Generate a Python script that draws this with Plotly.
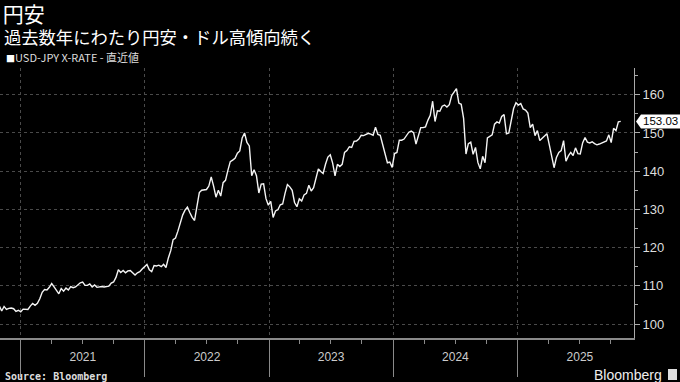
import plotly.graph_objects as go
import pandas as pd

# Weekly USD/JPY closes, grouped by year, each list starting at the given Friday
vals_2020 = [104.7, 103.4, 104.6, 103.8, 104.1, 104.2, 104.0, 103.3, 103.6]
vals_2021 = [103.2, 103.9, 103.9, 103.8, 104.7, 105.4, 104.9, 105.4, 106.6, 108.3, 109.0, 108.9, 109.6,
             110.6, 109.7, 108.8, 107.9, 109.3, 108.6, 109.4, 108.9, 109.8, 109.5, 109.7, 110.2, 110.8,
             111.0, 110.1, 110.1, 110.5, 109.7, 110.2, 109.6, 109.8, 109.8, 109.7, 109.9, 109.9, 110.7,
             111.0, 112.2, 114.2, 113.5, 114.0, 113.4, 113.9, 114.0, 113.4, 112.8, 113.4, 113.7, 114.4, 115.1]
vals_2022 = [115.6, 114.2, 113.7, 115.3, 115.2, 115.4, 115.0, 115.6, 114.8, 117.3, 119.2, 122.1, 122.5,
             124.3, 126.4, 128.5, 129.8, 130.6, 129.2, 127.9, 127.1, 130.8, 134.4, 135.0, 135.2, 135.2,
             136.1, 138.5, 136.1, 133.2, 135.0, 133.5, 137.0, 137.6, 140.2, 142.5, 142.9, 143.4, 144.7,
             145.3, 148.7, 150.0, 147.5, 146.6, 138.8, 140.4, 138.8, 134.3, 136.6, 136.7, 132.8, 131.1]
vals_2023 = [132.1, 127.9, 129.6, 129.9, 131.2, 131.4, 134.2, 136.5, 135.9, 135.0, 131.8, 130.7, 132.8,
             132.2, 133.8, 134.2, 136.3, 134.8, 135.7, 137.9, 140.6, 139.9, 139.4, 141.8, 143.7, 144.3,
             142.1, 138.8, 141.8, 141.2, 141.8, 144.9, 145.4, 146.4, 146.2, 147.8, 147.9, 148.4, 149.4,
             149.3, 149.6, 149.9, 149.7, 149.4, 151.5, 149.6, 149.4, 146.8, 144.9, 142.2, 142.4, 141.0]
vals_2024 = [144.6, 144.9, 148.1, 148.1, 148.4, 149.3, 150.2, 150.5, 150.1, 147.1, 149.0, 151.4, 151.4,
             151.6, 153.3, 154.6, 158.3, 153.0, 155.8, 155.7, 157.0, 157.3, 156.8, 157.4, 159.8, 160.9,
             161.6, 157.8, 157.5, 153.8, 144.5, 147.2, 147.6, 144.4, 146.2, 142.3, 140.6, 143.9, 142.2,
             148.7, 149.1, 149.5, 152.3, 152.9, 152.6, 154.3, 154.8, 149.8, 150.0, 153.6, 156.4, 157.9]
vals_2025 = [157.3, 157.7, 156.3, 156.0, 155.2, 151.4, 152.3, 149.3, 150.6, 148.0, 148.6, 149.3, 149.8,
             146.9, 143.5, 140.9, 143.6, 144.9, 145.4, 148.0, 142.6, 144.0, 144.9, 144.1, 146.1, 144.6,
             144.5, 147.4, 148.8, 147.6, 147.4, 147.7, 147.2, 146.9, 147.1, 147.4, 147.7, 147.9, 149.5,
             147.5, 151.2, 150.6, 152.9, 153.03]
starts = ["2020-10-30", "2021-01-01", "2022-01-07", "2023-01-06", "2024-01-05", "2025-01-03"]
series = [vals_2020, vals_2021, vals_2022, vals_2023, vals_2024, vals_2025]

year_ticks = ["2021-01-01", "2022-01-01", "2023-01-01", "2024-01-01", "2025-01-01"]
x_range = ["2020-11-01", "2025-12-09"]
y_range = [96.34, 167.0]
last_label = "153.03"
last_value = 153.03

dates, values = [], []
for s, v in zip(starts, series):
    dates += list(pd.date_range(s, periods=len(v), freq="7D"))
    values += v

W, H = 680, 382
ML, MR, MT, MB = 0, 46, 68, 44
PW, PH = W - ML - MR, H - MT - MB


def py(p):  # pixel-from-top -> paper y
    return 1 + (MT - p) / PH


def px(p):  # pixel-from-left -> paper x
    return (p - ML) / PW


JP = "Noto Sans CJK JP"
grid = "#4a4a4a"
axc = "#8a8a8a"

fig = go.Figure()
fig.add_trace(go.Scatter(x=dates, y=values, mode="lines",
                         line=dict(color="#f4f4f4", width=1.4), hoverinfo="skip", showlegend=False))
fig.add_trace(go.Scatter(x=[dates[0]], y=[values[0]], mode="markers", marker=dict(opacity=0),
                         xaxis="x2", hoverinfo="skip", showlegend=False))

# value pointer label on the right axis
dpp = (y_range[1] - y_range[0]) / PH
hh = 7 * dpp
x_tip, x_l, x_r = px(636), px(641), px(681)
fig.add_shape(type="path", xref="paper", yref="y",
              path=f"M {x_tip} {last_value} L {x_l} {last_value + hh} L {x_r} {last_value + hh} "
                   f"L {x_r} {last_value - hh} L {x_l} {last_value - hh} Z",
              fillcolor="white", line=dict(width=0), layer="above")
fig.add_annotation(xref="paper", yref="y", x=px(660.5), y=last_value, xanchor="center", yanchor="middle",
                   text=last_label, showarrow=False,
                   font=dict(family="Liberation Sans", size=11.5, color="black"))

# Bloomberg mark icon
fig.add_shape(type="rect", xref="paper", yref="paper", x0=px(668), x1=px(677), y0=py(380), y1=py(369),
              fillcolor="#dddddd", line=dict(width=0), layer="above")

fig.add_annotation(xref="paper", yref="paper", x=px(2), y=py(36), xanchor="left", yanchor="middle",
                   text="過去数年にわたり円安・ドル高傾向続く", showarrow=False,
                   font=dict(family=JP, size=17.3, color="white"))
fig.add_annotation(xref="paper", yref="paper", x=px(4), y=py(57), xanchor="left", yanchor="middle",
                   text="<span style='font-size:9px;color:white'>■</span>USD-JPY X-RATE - 直近値",
                   showarrow=False, font=dict(family=JP, size=11, color="#dddddd"))
fig.add_annotation(xref="paper", yref="paper", x=px(3), y=py(376), xanchor="left", yanchor="middle",
                   text="<b>Source: Bloomberg</b>", showarrow=False,
                   font=dict(family="DejaVu Sans Mono", size=10, color="#dddddd"))
fig.add_annotation(xref="paper", yref="paper", x=px(664), y=py(375), xanchor="right", yanchor="middle",
                   text="Bloomberg", showarrow=False,
                   font=dict(family="Liberation Sans", size=14, color="#eeeeee"))

fig.update_layout(
    width=W, height=H,
    margin=dict(l=ML, r=MR, t=MT, b=MB, pad=0),
    paper_bgcolor="black", plot_bgcolor="black",
    title=dict(text="円安", x=0.004, xref="container", xanchor="left",
               y=1 - 15 / H, yref="container", yanchor="middle",
               font=dict(family=JP, size=21, color="white")),
    xaxis=dict(range=x_range, tickmode="array", tickvals=year_ticks,
               showticklabels=False, ticks="outside", ticklen=37, tickcolor=axc, tickwidth=1,
               showgrid=True, gridcolor=grid, griddash="dot", gridwidth=1,
               showline=True, linecolor=axc, linewidth=2, zeroline=False,
               minor=dict(ticks="outside", ticklen=4, dtick="M3", tick0="2021-01-01",
                          tickcolor=axc, showgrid=False)),
    xaxis2=dict(overlaying="x", matches="x", anchor="y", side="bottom",
                dtick="M12", tick0="2021-01-01", ticklabelmode="period", tickformat="%Y",
                ticks="", showgrid=False, showline=False, zeroline=False,
                ticklabelstandoff=10,
                tickfont=dict(family="Liberation Sans", size=12, color="#cccccc")),
    yaxis=dict(range=y_range, side="right", dtick=10, tick0=100,
               showgrid=True, gridcolor=grid, griddash="dot", gridwidth=1,
               ticks="outside", ticklen=5, tickcolor="#aaaaaa",
               showline=True, linecolor="#aaaaaa", linewidth=1, zeroline=False,
               minor=dict(ticks="outside", ticklen=3, dtick=5, tick0=100, tickcolor="#aaaaaa",
                          showgrid=False),
               tickfont=dict(family="Liberation Sans", size=13, color="#dddddd")),
)

fig.write_html("out.html", config={"displayModeBar": False},
               post_script="document.body.style.margin='0';document.body.style.padding='0';"
                           "document.body.style.overflow='hidden';document.body.style.background='black';")
